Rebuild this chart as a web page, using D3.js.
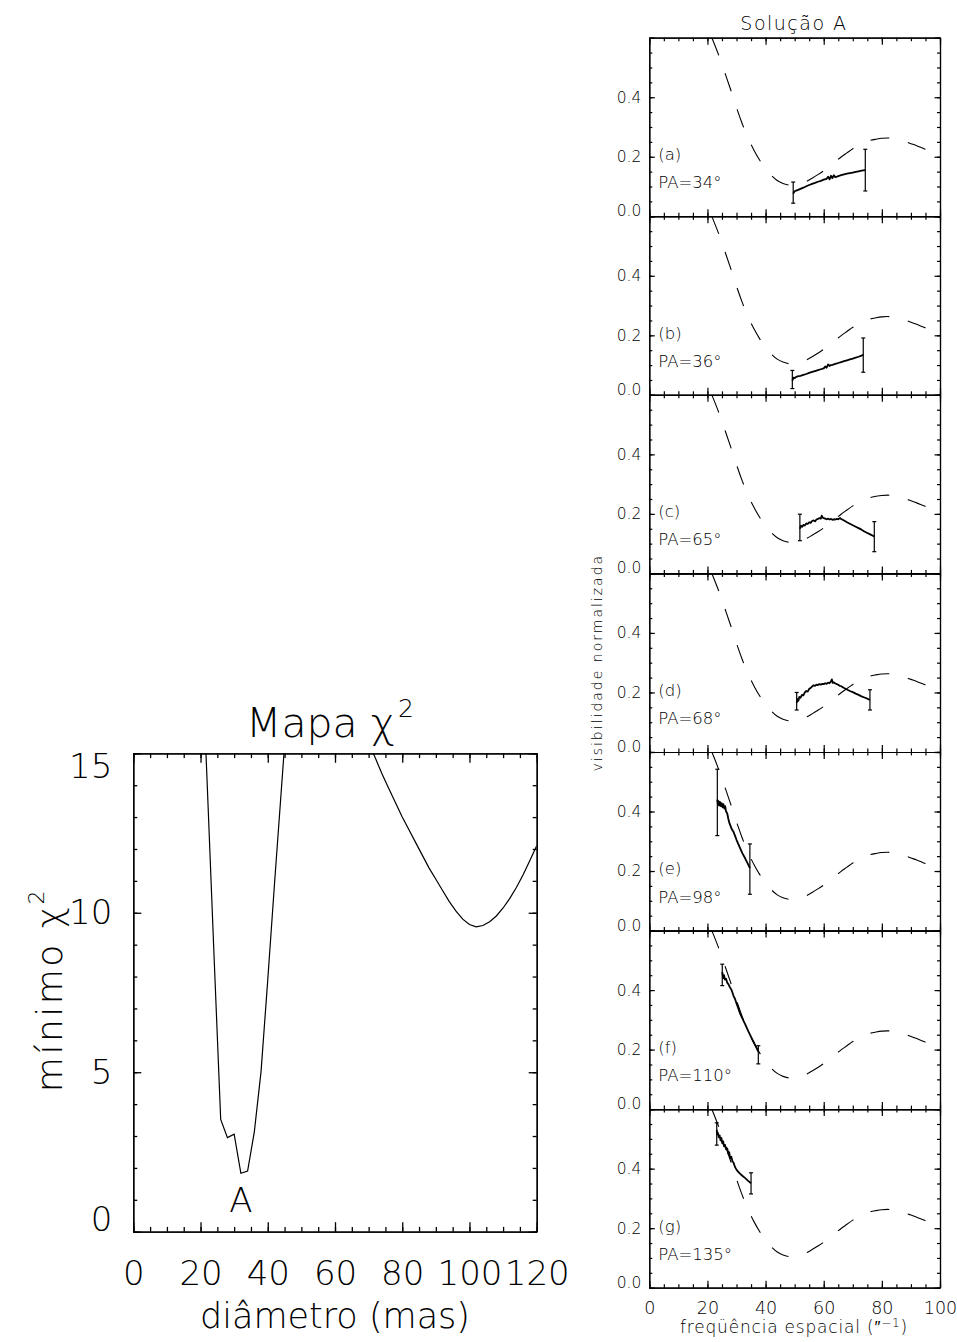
<!DOCTYPE html>
<html><head><meta charset="utf-8">
<script src="https://cdn.jsdelivr.net/npm/d3@7"></script>
<style>
body{margin:0;background:#fff;}
svg text{font-family:"DejaVu Sans",sans-serif;font-weight:200;fill:#000;}
</style></head><body>
<svg id="c" width="957" height="1342"></svg>
<script>
// ---------- left chart data (Mapa chi^2) ----------
const chiDiam = [20,22,24,26,28,30,32,34,36,38,40,42,44,46,50,60,66,68,70,72,74,76,78,80,82,84,86,88,90,92,94,96,98,100,102,104,106,108,110,112,114,116,118,120];
const chiMin  = [19.2,14.0,8.7,3.52,2.95,3.06,1.83,1.90,3.13,5.02,7.9,10.9,13.8,16.7,22,18.3,16.4,15.85,15.35,14.85,14.35,13.9,13.45,13.0,12.6,12.2,11.8,11.4,11.05,10.7,10.35,10.05,9.8,9.63,9.56,9.6,9.72,9.9,10.15,10.45,10.8,11.2,11.65,12.1];
const chiXTicks = [0,20,40,60,80,100,120];
const chiYTicks = [0,5,10,15];
const chiMinorX = d3.range(0,121,5);
const chiMinorY = d3.range(0,16,1);
const solLabel = "A", solDiam = 32;

// ---------- right panels data ----------
const freqTicks = [0,20,40,60,80,100];
const visTicks = [0,0.2,0.4,0.6];
const freqMinor = d3.range(0,101,5);
const visMinor = d3.range(0,0.601,0.05);
const modelFreq = [21.5,22,24,26,28,30,32,34,36,38,40,42,44,46,48,50,52,54,56,58,60,62,64,66,68,70,72,74,76,78,80,82,84,86,88,90,92,94,96,98,100];
const modelVis  = [0.600,0.588,0.538,0.482,0.425,0.365,0.31,0.262,0.222,0.188,0.16,0.137,0.12,0.11,0.105,0.105,0.109,0.117,0.128,0.14,0.153,0.168,0.184,0.199,0.213,0.227,0.239,0.248,0.255,0.259,0.262,0.263,0.261,0.257,0.251,0.244,0.237,0.229,0.221,0.212,0.203];
const panelTags = ["(a)","(b)","(c)","(d)","(e)","(f)","(g)"];
const panelPA = [34,36,65,68,98,110,135];

const freqA = [49.5,50,50.5,51,52,53,54,55,56,57,58,59,60,61,61.5,62,62.5,63,63.5,64,65,66,67,68,69,70,71,72,73,74.3];
const visA  = [0.076,0.084,0.086,0.088,0.092,0.096,0.101,0.105,0.109,0.112,0.116,0.119,0.123,0.126,0.133,0.124,0.136,0.128,0.138,0.131,0.135,0.138,0.141,0.143,0.145,0.147,0.149,0.151,0.153,0.155];
const errFreqA = [49.5,74.3], errLoA = [0.044,0.085], errHiA = [0.115,0.225];

const freqB = [49.2,49.6,50,50.5,51,52,53,54,55,56,57,58,59,60,60.5,61,61.5,62,62.5,63,64,65,66,67,68,69,70,71,72,73,73.6];
const visB  = [0.048,0.058,0.056,0.060,0.062,0.064,0.067,0.070,0.074,0.077,0.080,0.083,0.086,0.089,0.095,0.091,0.102,0.097,0.100,0.101,0.104,0.107,0.110,0.113,0.116,0.119,0.122,0.125,0.128,0.132,0.134];
const errFreqB = [49.2,73.6], errLoB = [0.021,0.076], errHiB = [0.082,0.191];

const freqC = [51.8,52.2,52.6,53,53.5,54,54.5,55,55.5,56,56.5,57,57.5,58,58.5,59,59.3,59.7,60,60.5,61,61.5,62,62.5,63,63.5,64,64.5,65,65.6,66,67,68,69,70,71,72,73,74,75,76,77.4];
const visC  = [0.150,0.160,0.157,0.163,0.161,0.168,0.166,0.172,0.170,0.176,0.178,0.175,0.181,0.183,0.186,0.184,0.194,0.187,0.186,0.184,0.182,0.184,0.181,0.183,0.180,0.182,0.181,0.183,0.182,0.186,0.183,0.178,0.172,0.167,0.162,0.157,0.152,0.147,0.141,0.136,0.131,0.124];
const errFreqC = [51.8,77.4], errLoC = [0.11,0.073], errHiC = [0.199,0.174];

const freqD = [50.7,51,51.3,51.6,52,52.5,53,53.5,54,54.5,55,55.5,56,56.5,57,57.5,58,58.5,59,59.5,60,60.5,61,61.5,62,62.5,62.8,63.1,63.5,64,64.5,65,65.5,66,67,68,69,70,71,72,73,74,75,75.9];
const visD  = [0.165,0.178,0.172,0.185,0.182,0.192,0.190,0.200,0.205,0.203,0.212,0.215,0.220,0.224,0.222,0.226,0.225,0.228,0.226,0.229,0.228,0.231,0.229,0.233,0.231,0.238,0.244,0.232,0.234,0.230,0.228,0.226,0.222,0.221,0.215,0.210,0.205,0.201,0.196,0.192,0.187,0.183,0.179,0.175];
const errFreqD = [50.7,75.9], errLoD = [0.141,0.141], errHiD = [0.2,0.209];

const freqE = [23.4,23.6,23.8,24,24.3,24.6,24.9,25.2,25.5,25.8,26.1,26.4,26.8,27.2,27.6,28,28.4,28.9,29.5,30,31,32,33,34,34.6];
const visE  = [0.44,0.425,0.435,0.42,0.432,0.418,0.428,0.414,0.425,0.41,0.418,0.40,0.394,0.375,0.36,0.35,0.34,0.333,0.318,0.305,0.282,0.26,0.242,0.222,0.21];
const errFreqE = [23.4,34.6], errLoE = [0.319,0.122], errHiE = [0.542,0.291];

const freqF = [25.1,25.4,25.7,26,26.4,26.8,27.2,27.6,28,28.3,29,29.5,30,30.5,31.2,32,33,34,35,36,37,37.5];
const visF  = [0.46,0.44,0.45,0.435,0.438,0.425,0.42,0.412,0.405,0.40,0.38,0.37,0.355,0.342,0.322,0.305,0.285,0.263,0.243,0.223,0.203,0.193];
const errFreqF = [25.1,37.5], errLoF = [0.415,0.152], errHiF = [0.487,0.213];

const freqG = [23.2,23.4,23.6,23.9,24.2,24.5,24.8,25.1,25.4,25.7,26,26.4,26.8,27.2,27.5,27.8,28.2,28.6,29,29.5,30.1,31,32,33,34,35];
const visG  = [0.53,0.515,0.52,0.505,0.512,0.495,0.503,0.485,0.492,0.475,0.48,0.465,0.468,0.45,0.455,0.435,0.44,0.425,0.42,0.405,0.395,0.385,0.376,0.368,0.359,0.351];
const errFreqG = [23.2,35.0], errLoG = [0.479,0.315], errHiG = [0.554,0.386];

const panels = [
  {f:freqA,v:visA,ef:errFreqA,lo:errLoA,hi:errHiA},
  {f:freqB,v:visB,ef:errFreqB,lo:errLoB,hi:errHiB},
  {f:freqC,v:visC,ef:errFreqC,lo:errLoC,hi:errHiC},
  {f:freqD,v:visD,ef:errFreqD,lo:errLoD,hi:errHiD},
  {f:freqE,v:visE,ef:errFreqE,lo:errLoE,hi:errHiE},
  {f:freqF,v:visF,ef:errFreqF,lo:errLoF,hi:errHiF},
  {f:freqG,v:visG,ef:errFreqG,lo:errLoG,hi:errHiG}
];

const svg = d3.select("#c");
const defs = svg.append("defs");

function styleAxis(g, sw){
  g.attr("font-family",null).attr("font-size",null);
  g.select(".domain").attr("stroke","#000").attr("stroke-width",sw);
  g.selectAll(".tick line").attr("stroke","#000").attr("stroke-width",sw);
  return g;
}

// ================= LEFT CHART =================
const L = {x0:133.3, x1:536.7, y0:753.3, y1:1231.7};
const xL = d3.scaleLinear().domain([0,120]).range([L.x0,L.x1]);
const yL = d3.scaleLinear().domain([0,15]).range([L.y1,L.y0]);
const lsw = 1.3;

defs.append("clipPath").attr("id","clipL").append("rect")
  .attr("x",L.x0).attr("y",L.y0).attr("width",L.x1-L.x0).attr("height",L.y1-L.y0);

// minor ticks
styleAxis(svg.append("g").attr("transform",`translate(0,${L.y1})`)
  .call(d3.axisBottom(xL).tickValues(chiMinorX).tickSize(-4.8).tickSizeOuter(0).tickFormat("")), lsw);
styleAxis(svg.append("g").attr("transform",`translate(0,${L.y0})`)
  .call(d3.axisTop(xL).tickValues(chiMinorX).tickSize(-4.8).tickSizeOuter(0).tickFormat("")), lsw);
styleAxis(svg.append("g").attr("transform",`translate(${L.x0},0)`)
  .call(d3.axisLeft(yL).tickValues(chiMinorY).tickSize(-4).tickSizeOuter(0).tickFormat("")), lsw);
styleAxis(svg.append("g").attr("transform",`translate(${L.x1},0)`)
  .call(d3.axisRight(yL).tickValues(chiMinorY).tickSize(-4).tickSizeOuter(0).tickFormat("")), lsw);
// major ticks
const lxb = styleAxis(svg.append("g").attr("transform",`translate(0,${L.y1})`)
  .call(d3.axisBottom(xL).tickValues(chiXTicks).tickSize(-9.5).tickSizeOuter(0).tickPadding(29).tickFormat(d3.format("d"))), lsw);
lxb.selectAll("text").style("font-size","34px");
styleAxis(svg.append("g").attr("transform",`translate(0,${L.y0})`)
  .call(d3.axisTop(xL).tickValues(chiXTicks).tickSize(-9.5).tickSizeOuter(0).tickFormat("")), lsw);
const lyl = styleAxis(svg.append("g").attr("transform",`translate(${L.x0},0)`)
  .call(d3.axisLeft(yL).tickValues(chiYTicks).tickSize(-8).tickSizeOuter(0).tickPadding(21).tickFormat(d3.format("d"))), lsw);
lyl.selectAll("text").style("font-size","34px")
  .attr("y", d => d===0 ? -12 : (d===15 ? 13 : 0));
styleAxis(svg.append("g").attr("transform",`translate(${L.x1},0)`)
  .call(d3.axisRight(yL).tickValues(chiYTicks).tickSize(-8).tickSizeOuter(0).tickFormat("")), lsw);

// curve
svg.append("path")
  .datum(chiDiam.map((d,i)=>[d,chiMin[i]]))
  .attr("clip-path","url(#clipL)")
  .attr("fill","none").attr("stroke","#000").attr("stroke-width",1.2)
  .attr("d", d3.line().x(d=>xL(d[0])).y(d=>yL(d[1])));

// labels
svg.append("text").attr("x",xL(solDiam)).attr("y",1212).attr("text-anchor","middle")
  .style("font-size","34px").text(solLabel);
const tt = svg.append("text").attr("x",330).attr("y",737).attr("text-anchor","middle").style("font-size","41px");
tt.append("tspan").text("Mapa  ");
tt.append("tspan").text("χ");
tt.append("tspan").attr("dy",-20).attr("dx",3).style("font-size","25px").text("2");
svg.append("text").attr("x",335).attr("y",1328).attr("text-anchor","middle")
  .style("font-size","35px").text("diâmetro (mas)");
const yt = svg.append("text").attr("transform","translate(62,990) rotate(-90)")
  .attr("text-anchor","middle").style("font-size","36px").style("letter-spacing","2.5px");
yt.append("tspan").text("mínimo ");
yt.append("tspan").text("χ");
yt.append("tspan").attr("dy",-18).style("font-size","22px").text("2");

// ================= RIGHT PANELS =================
const R = {x0:649.3, x1:940, top:37.7, ph:178.57};
const xR = d3.scaleLinear().domain([0,100]).range([R.x0,R.x1]);
const rsw = 1.2;
const modelPts = modelFreq.map((d,i)=>[d,modelVis[i]]);

panels.forEach((p,i)=>{
  const top = R.top + i*R.ph, bot = top + R.ph;
  const y = d3.scaleLinear().domain([0,0.6]).range([bot,top]);
  const g = svg.append("g");
  defs.append("clipPath").attr("id","clipR"+i).append("rect")
    .attr("x",R.x0).attr("y",top).attr("width",R.x1-R.x0).attr("height",R.ph);

  // minor ticks
  styleAxis(g.append("g").attr("transform",`translate(0,${bot})`)
    .call(d3.axisBottom(xR).tickValues(freqMinor).tickSize(-3.5).tickSizeOuter(0).tickFormat("")), rsw);
  styleAxis(g.append("g").attr("transform",`translate(0,${top})`)
    .call(d3.axisTop(xR).tickValues(freqMinor).tickSize(-3.5).tickSizeOuter(0).tickFormat("")), rsw);
  styleAxis(g.append("g").attr("transform",`translate(${R.x0},0)`)
    .call(d3.axisLeft(y).tickValues(visMinor).tickSize(-3).tickSizeOuter(0).tickFormat("")), rsw);
  styleAxis(g.append("g").attr("transform",`translate(${R.x1},0)`)
    .call(d3.axisRight(y).tickValues(visMinor).tickSize(-3).tickSizeOuter(0).tickFormat("")), rsw);
  // major
  const xb = styleAxis(g.append("g").attr("transform",`translate(0,${bot})`)
    .call(d3.axisBottom(xR).tickValues(freqTicks).tickSize(-7).tickSizeOuter(0).tickPadding(14)
      .tickFormat(i===panels.length-1 ? d3.format("d") : "")), rsw);
  xb.selectAll("text").style("font-size","17.5px");
  styleAxis(g.append("g").attr("transform",`translate(0,${top})`)
    .call(d3.axisTop(xR).tickValues(freqTicks).tickSize(-7).tickSizeOuter(0).tickFormat("")), rsw);
  const yl = styleAxis(g.append("g").attr("transform",`translate(${R.x0},0)`)
    .call(d3.axisLeft(y).tickValues(visTicks).tickSize(-5.5).tickSizeOuter(0).tickPadding(8)
      .tickFormat(d => d===0.6 ? "" : d3.format(".1f")(d))), rsw);
  yl.selectAll("text").style("font-size","15.5px").attr("y", d => d===0 ? -5.5 : 0);
  styleAxis(g.append("g").attr("transform",`translate(${R.x1},0)`)
    .call(d3.axisRight(y).tickValues(visTicks).tickSize(-5.5).tickSizeOuter(0).tickFormat("")), rsw);

  // model dashed
  g.append("path").datum(modelPts)
    .attr("clip-path",`url(#clipR${i})`)
    .attr("fill","none").attr("stroke","#000").attr("stroke-width",1.1)
    .attr("stroke-dasharray","19,19")
    .attr("d", d3.line().curve(d3.curveMonotoneX).x(d=>xR(d[0])).y(d=>y(d[1])));

  // data
  g.append("path").datum(p.f.map((d,k)=>[d,p.v[k]]))
    .attr("fill","none").attr("stroke","#000").attr("stroke-width",1.8).attr("stroke-linejoin","round")
    .attr("d", d3.line().x(d=>xR(d[0])).y(d=>y(d[1])));

  // error bars
  p.ef.forEach((f,k)=>{
    const cx = xR(f);
    g.append("line").attr("x1",cx).attr("x2",cx).attr("y1",y(p.lo[k])).attr("y2",y(p.hi[k]))
      .attr("stroke","#000").attr("stroke-width",1.2);
    [p.lo[k],p.hi[k]].forEach(v=>{
      g.append("line").attr("x1",cx-2).attr("x2",cx+2).attr("y1",y(v)).attr("y2",y(v))
        .attr("stroke","#000").attr("stroke-width",1.2);
    });
  });

  // labels
  g.append("text").attr("x",658.3).attr("y",top+122.5).style("font-size","16.5px").text(panelTags[i]);
  g.append("text").attr("x",658.3).attr("y",top+150.6).style("font-size","16.5px").text("PA="+panelPA[i]+"°");
});

svg.append("text").attr("x",794).attr("y",30).attr("text-anchor","middle")
  .style("font-size","19px").style("letter-spacing","1.5px").text("Solução A");
const xt = svg.append("text").attr("x",794).attr("y",1333).attr("text-anchor","middle")
  .style("font-size","17px").style("letter-spacing","0.8px");
xt.append("tspan").text("freqüência espacial (\u2033");
xt.append("tspan").attr("dy",-6).style("font-size","12px").text("\u22121");
xt.append("tspan").attr("dy",6).text(")");
svg.append("text").attr("transform","translate(602,662.7) rotate(-90)").attr("text-anchor","middle")
  .style("font-size","14px").style("letter-spacing","2px").text("visibilidade normalizada");
</script>
</body></html>
